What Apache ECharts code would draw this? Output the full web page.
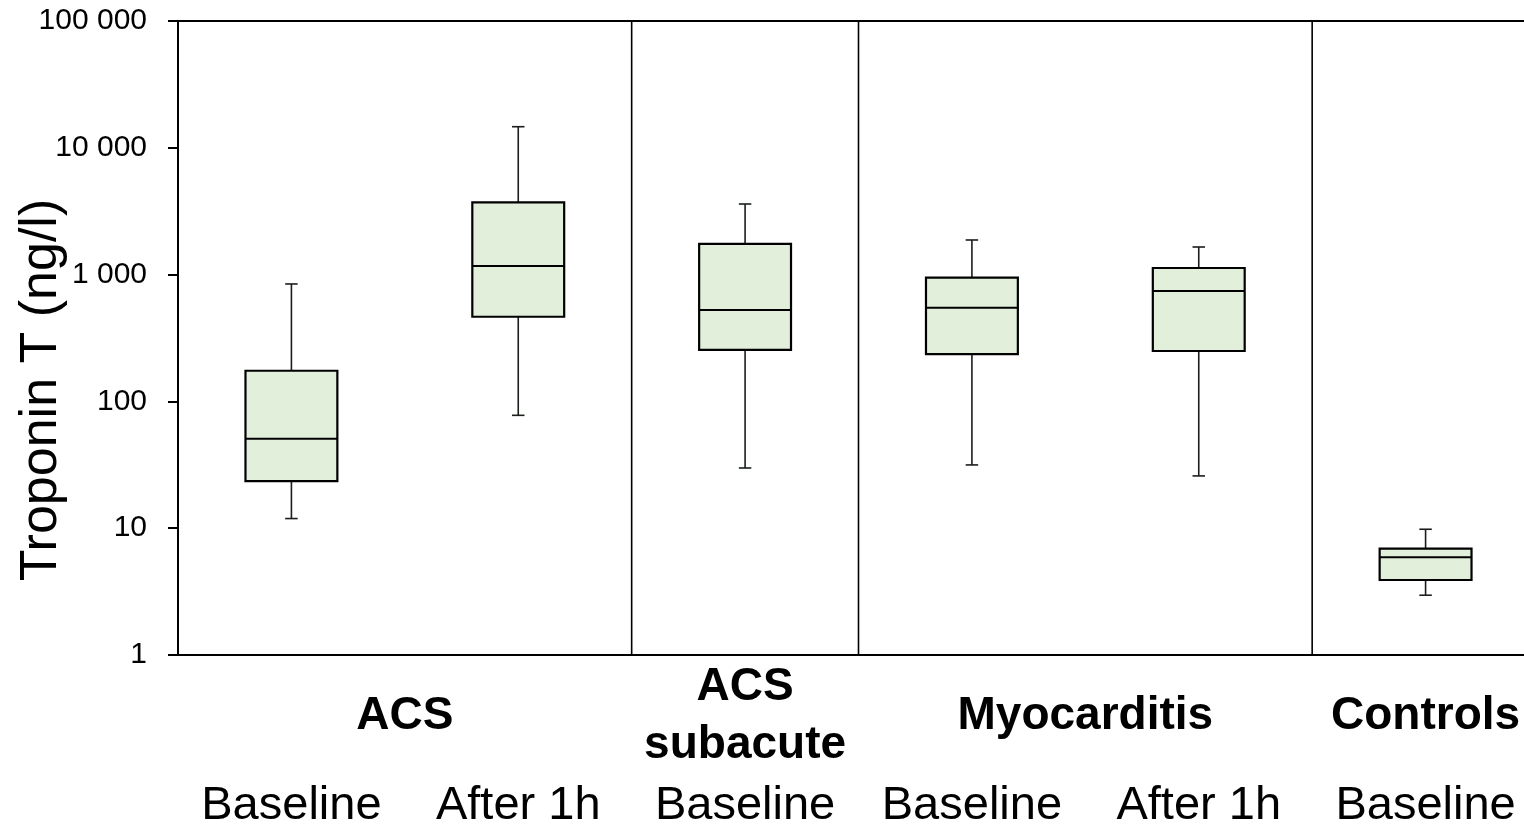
<!DOCTYPE html>
<html>
<head>
<meta charset="utf-8">
<script src="https://cdn.jsdelivr.net/npm/echarts@6/dist/echarts.min.js"></script>
<style>
html,body{margin:0;padding:0;background:#fff;}
#chart{width:1524px;height:828px;}
</style>
</head>
<body>
<div id="chart"></div>
<script>
// ---- data ----
const categories = ['Baseline', 'After 1h', 'Baseline', 'Baseline', 'After 1h', 'Baseline'];
const whiskerLow  = [11.9, 77.5, 29.8, 31.5, 25.8, 2.96];
const q1          = [23.5, 464, 254, 235, 249, 3.9];
const median      = [50.7, 1165, 524, 547, 740, 5.9];
const q3          = [174, 3700, 1738, 942, 1124, 6.9];
const whiskerHigh = [841, 14600, 3590, 1868, 1645, 9.8];
const groupNames  = ['ACS', 'ACS\nsubacute', 'Myocarditis', 'Controls'];
const groupFirst  = [0, 2, 3, 5];
const groupLast   = [1, 2, 4, 5];
const separatorAfter = [1, 2, 4];
const yMin = 1, yMax = 100000;
const yTitle = 'Troponin T (ng/l)';

const FONT = '"Liberation Sans", Arial, Helvetica, sans-serif';

const boxData = categories.map((c, i) => [i, whiskerLow[i], q1[i], median[i], q3[i], whiskerHigh[i]]);
const groupData = groupNames.map((n, i) => [groupFirst[i], groupLast[i]]);
const sepData = separatorAfter.map(i => [i]);

function fmt(v) {
  return String(Math.round(v)).replace(/\B(?=(\d{3})+(?!\d))/g, ' ');
}

const chart = echarts.init(document.getElementById('chart'), null, {renderer: 'canvas'});

const option = {
  backgroundColor: '#fff',
  animation: false,
  grid: {left: 178, right: -15, top: 20.7, bottom: 173, containLabel: false, outerBoundsMode: 'none'},
  graphic: [{
    type: 'text',
    x: 42,
    y: 390,
    rotation: Math.PI / 2,
    style: {
      text: yTitle,
      fontFamily: FONT,
      fontSize: 52,
      fill: '#000',
      align: 'center',
      verticalAlign: 'middle'
    }
  }],
  xAxis: [{
    type: 'category',
    data: categories,
    boundaryGap: true,
    axisLine: {show: true, lineStyle: {color: '#000', width: 2}},
    axisTick: {show: false},
    splitLine: {show: false},
    axisLabel: {
      interval: 0,
      color: '#000',
      fontFamily: FONT,
      fontSize: 47,
      margin: 128,
      hideOverlap: false
    }
  }, {
    type: 'category',
    data: categories,
    position: 'top',
    axisLine: {show: true, onZero: false, lineStyle: {color: '#000', width: 2}},
    axisTick: {show: false},
    axisLabel: {show: false},
    splitLine: {show: false}
  }],
  yAxis: {
    type: 'log',
    logBase: 10,
    min: yMin,
    max: yMax,
    axisLine: {show: true, lineStyle: {color: '#000', width: 2}},
    axisTick: {show: true, inside: false, length: 10, lineStyle: {color: '#000', width: 2}},
    splitLine: {show: false},
    minorTick: {show: false},
    axisLabel: {
      color: '#000',
      fontFamily: FONT,
      fontSize: 30,
      margin: 31,
      formatter: v => fmt(v)
    }
  },
  series: [{
    type: 'custom',
    name: 'separators',
    data: sepData,
    clip: false,
    renderItem: function (params, api) {
      const i = api.value(0);
      const a = api.coord([i, yMax]);
      const b = api.coord([i + 1, yMin]);
      const x = (a[0] + b[0]) / 2;
      return {
        type: 'line',
        shape: {x1: x, y1: a[1], x2: x, y2: b[1]},
        style: {stroke: '#000', lineWidth: 1.6}
      };
    }
  }, {
    type: 'custom',
    name: 'boxes',
    data: boxData,
    clip: false,
    renderItem: function (params, api) {
      const i = api.value(0);
      const p0 = api.coord([0, yMin]);
      const p1 = api.coord([1, yMin]);
      const band = p1[0] - p0[0];
      const bw = band * 0.405;
      const cw = band * 0.055;
      const lo = api.coord([i, api.value(1)]);
      const b1 = api.coord([i, api.value(2)]);
      const md = api.coord([i, api.value(3)]);
      const b3 = api.coord([i, api.value(4)]);
      const hi = api.coord([i, api.value(5)]);
      const x = lo[0];
      const ws = {stroke: '#1a1f1a', lineWidth: 1.6};
      return {
        type: 'group',
        children: [
          {type: 'line', shape: {x1: x, y1: hi[1], x2: x, y2: b3[1]}, style: ws},
          {type: 'line', shape: {x1: x, y1: b1[1], x2: x, y2: lo[1]}, style: ws},
          {type: 'line', shape: {x1: x - cw / 2, y1: hi[1], x2: x + cw / 2, y2: hi[1]}, style: ws},
          {type: 'line', shape: {x1: x - cw / 2, y1: lo[1], x2: x + cw / 2, y2: lo[1]}, style: ws},
          {type: 'rect', shape: {x: x - bw / 2, y: b3[1], width: bw, height: b1[1] - b3[1]},
           style: {fill: '#e2efda', stroke: '#000', lineWidth: 2.2}},
          {type: 'line', shape: {x1: x - bw / 2, y1: md[1], x2: x + bw / 2, y2: md[1]},
           style: {stroke: '#000', lineWidth: 2}}
        ]
      };
    }
  }, {
    type: 'custom',
    name: 'groups',
    data: groupData,
    clip: false,
    renderItem: function (params, api) {
      const a = api.coord([api.value(0), yMin]);
      const b = api.coord([api.value(1), yMin]);
      return {
        type: 'text',
        x: (a[0] + b[0]) / 2,
        y: a[1] + 61,
        style: {
          text: groupNames[params.dataIndex],
          fontFamily: FONT,
          fontWeight: 'bold',
          fontSize: 46,
          lineHeight: 58,
          fill: '#000',
          align: 'center',
          verticalAlign: 'middle'
        }
      };
    }
  }]
};
chart.setOption(option);
</script>
</body>
</html>
